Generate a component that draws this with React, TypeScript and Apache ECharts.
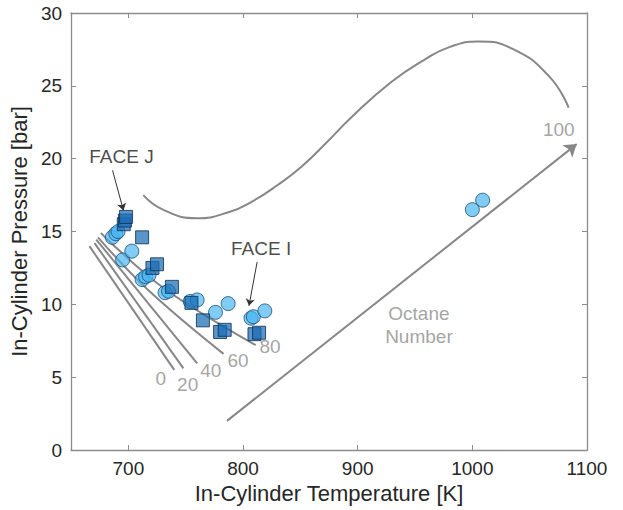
import React, { useEffect, useRef } from "react";
import * as echarts from "echarts";

// Axis ranges and tick values
const tempRange = [650, 1100];
const tempTicks = [700, 800, 900, 1000, 1100];
const pressRange = [0, 30];

// FACE I (circles): [temperature K, pressure bar]
const faceI = [
  [686, 14.6], [689, 14.85], [691, 15.0], [695, 13.05], [703, 13.65],
  [712, 11.7], [715, 11.9], [718, 12.0], [732, 10.8], [735, 10.9],
  [754, 10.2], [760, 10.3], [776, 9.45], [787, 10.05], [807, 9.05],
  [809, 9.15], [819, 9.55], [1000, 16.5], [1009, 17.15],
];

// FACE J (squares)
const faceJ = [
  [696, 15.5], [697, 15.75], [698, 16.0], [712, 14.6], [721, 12.5],
  [725, 12.75], [738, 11.2], [755, 10.1], [765, 8.9], [780, 8.1],
  [784, 8.25], [810, 7.95], [814, 8.05],
];

// Octane-number iso-lines
const on0 = [[666, 14.0], [740, 5.5]];
const on20 = [[670.5, 14.2], [748, 5.6]];
const on40 = [[672, 14.45], [760, 5.95]];
const on60 = [[673.5, 14.6], [717, 11.0], [783, 6.6]];
const on80 = [[676, 14.9], [731, 11.1], [811, 7.2]];
const onLines = [on0, on20, on40, on60, on80];

// Upper boundary curve
const boundary = [
  [713, 17.5], [731, 16.47], [759.5, 15.91], [788, 16.34], [808.6, 17.09],
  [830.2, 18.19], [851.7, 19.5], [873.3, 21.14], [894.8, 22.86], [929.3, 25.26],
  [957.8, 26.77], [981, 27.69], [1005, 28.05], [1036, 27.5], [1067.2, 25.63],
  [1084, 23.5],
];

// Arrows: [start, end]
const octaneArrow = [[786, 2], [1091, 21]];
const faceJArrow = [[686.2, 19.2], [695.7, 16.45]];
const faceIArrow = [[812.3, 12.9], [805.2, 9.9]];

// Text annotations
const octaneLabels = [
  { name: "0", value: [728.2, 4.94] },
  { name: "20", value: [751.7, 4.53] },
  { name: "40", value: [771.8, 5.44] },
  { name: "60", value: [795.7, 6.13] },
  { name: "80", value: [823.5, 7.09] },
  { name: "100", value: [1075.4, 21.97] },
  { name: "Octane\nNumber", value: [953.4, 8.58] },
];
const faceLabels = [
  { name: "FACE J", value: [694, 20.18] },
  { name: "FACE I", value: [815.8, 13.85] },
];

const FONT = '"Liberation Sans", Arial, Helvetica, sans-serif';
const GRAY = "#878787";
const AXIS = "#8c8c8c";

function textSeries(data: any[], color: string, size: number) {
  return {
    type: "scatter",
    silent: true,
    symbol: "circle",
    symbolSize: 1,
    itemStyle: { color: "rgba(0,0,0,0)", borderWidth: 0 },
    label: {
      show: true,
      position: "inside",
      formatter: "{b}",
      color,
      fontSize: size,
      fontFamily: FONT,
      lineHeight: 23,
      align: "center",
    },
    data,
    z: 5,
  };
}

function arrowSeries(coords: number[][], color: string, width: number, size: number) {
  return {
    type: "lines",
    coordinateSystem: "cartesian2d",
    silent: true,
    symbol: ["none", "arrow"],
    symbolSize: size,
    lineStyle: { color, width, opacity: 1 },
    data: [{ coords }],
    z: 4,
  };
}

export default function App() {
  const ref = useRef<HTMLDivElement>(null);

  useEffect(() => {
    if (!ref.current) return;
    const chart = echarts.init(ref.current, undefined, { renderer: "svg" });

    const baseX = {
      type: "value",
      min: tempRange[0],
      max: tempRange[1],
      splitLine: { show: false },
      axisLine: { show: true, onZero: false, lineStyle: { color: AXIS, width: 1.3 } },
      axisTick: { show: true, inside: true, length: 5, customValues: tempTicks, lineStyle: { color: AXIS } },
    };
    const baseY = {
      type: "value",
      min: pressRange[0],
      max: pressRange[1],
      interval: 5,
      splitLine: { show: false },
      axisLine: { show: true, onZero: false, lineStyle: { color: AXIS, width: 1.3 } },
      axisTick: { show: true, inside: true, length: 5, lineStyle: { color: AXIS } },
    };

    const option: any = {
      animation: false,
      backgroundColor: "#ffffff",
      textStyle: { fontFamily: FONT },
      grid: { left: 66, right: 36, top: 13, bottom: 60 },
      xAxis: [
        {
          ...baseX,
          position: "bottom",
          name: "In-Cylinder Temperature [K]",
          nameLocation: "middle",
          nameGap: 31,
          nameTextStyle: { fontSize: 22, color: "#262626", fontFamily: FONT },
          axisLabel: {
            customValues: tempTicks,
            formatter: (v: number) => String(v),
            fontSize: 19,
            color: "#262626",
            margin: 9,
            fontFamily: FONT,
          },
        },
        { ...baseX, position: "top", axisLabel: { show: false } },
      ],
      yAxis: [
        {
          ...baseY,
          position: "left",
          name: "In-Cylinder Pressure [bar]",
          nameLocation: "middle",
          nameGap: 32,
          nameTextStyle: { fontSize: 22, color: "#262626", fontFamily: FONT },
          axisLabel: { fontSize: 19, color: "#262626", margin: 9, fontFamily: FONT },
        },
        { ...baseY, position: "right", axisLabel: { show: false } },
      ],
      series: [
        ...onLines.map((d) => ({
          type: "line",
          data: d,
          symbol: "none",
          smooth: 0.4,
          silent: true,
          lineStyle: { color: GRAY, width: 2 },
          z: 2,
        })),
        {
          type: "line",
          data: boundary,
          symbol: "none",
          smooth: 0.5,
          smoothMonotone: "none",
          silent: true,
          lineStyle: { color: GRAY, width: 2 },
          z: 2,
        },
        arrowSeries(octaneArrow, GRAY, 2, 12),
        arrowSeries(faceJArrow, "#333333", 1, 7),
        arrowSeries(faceIArrow, "#333333", 1, 7),
        {
          type: "scatter",
          name: "FACE I",
          data: faceI,
          symbol: "circle",
          symbolSize: 14,
          itemStyle: { color: "rgba(70,180,240,0.85)", borderColor: "#1d4b73", borderWidth: 1 },
          z: 3,
        },
        {
          type: "scatter",
          name: "FACE J",
          data: faceJ,
          symbol: "rect",
          symbolSize: 13,
          itemStyle: { color: "rgba(26,108,180,0.9)", borderColor: "#0c2f4f", borderWidth: 1 },
          z: 3,
        },
        textSeries(octaneLabels, "#8c8c8c", 19),
        textSeries(faceLabels, "#1a1a1a", 19),
      ],
    };

    chart.setOption(option);
    return () => chart.dispose();
  }, []);

  return (
    <div
      ref={ref}
      style={{ position: "fixed", left: 0, top: 0, width: 623, height: 510, background: "#fff" }}
    />
  );
}
